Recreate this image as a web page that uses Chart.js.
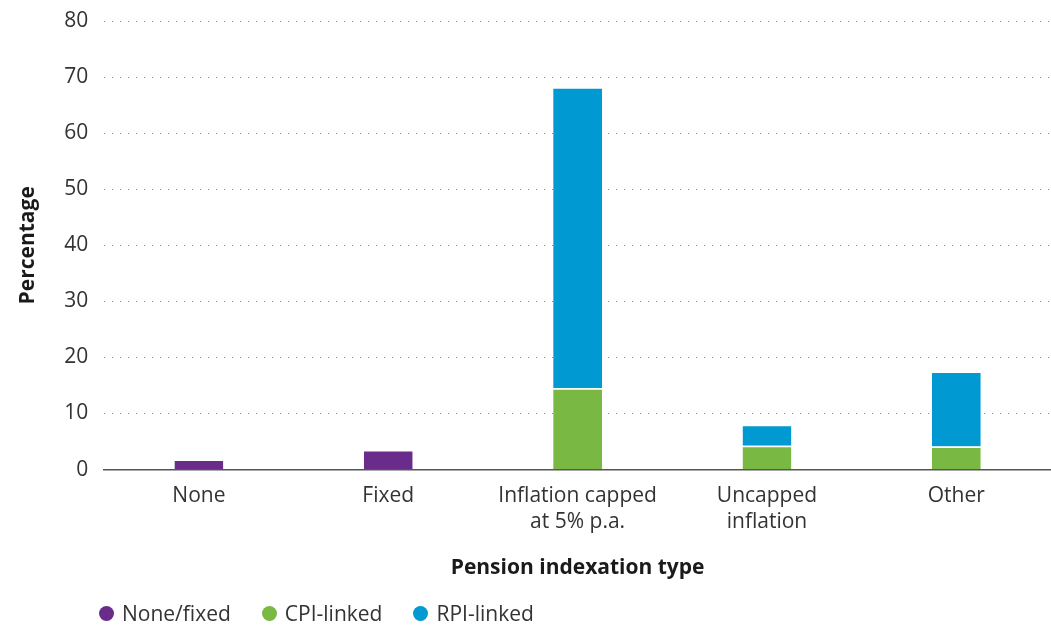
<!DOCTYPE html>
<html>
<head>
<meta charset="utf-8">
<script src="https://cdn.jsdelivr.net/npm/chart.js@4"></script>
<style>
  html, body { margin: 0; padding: 0; background: #fff; }
  #wrap { width: 1051px; height: 629px; position: relative; }
  #legend {
    position: absolute; left: 99px; top: 600px;
    display: flex; align-items: center;
    font-family: 'Open Sans', 'Noto Sans', sans-serif; font-size: 21px; color: #333;
  }
  #legend .item { display: flex; align-items: center; margin-right: 31px; line-height: 26px; }
  #legend .dot { width: 15px; height: 15px; border-radius: 50%; margin-right: 8px; }
</style>
</head>
<body>
<div id="wrap">
  <canvas id="c" width="1051" height="629"></canvas>
  <div id="legend"></div>
</div>
<script>
// Pension indexation type categories (multi-line labels)
const categories = [
  ["None"],
  ["Fixed"],
  ["Inflation capped", "at 5% p.a."],
  ["Uncapped", "inflation"],
  ["Other"]
];

// Percentage of schemes by indexation type
const noneFixed = [1.8, 3.5, null, null, null];
const cpiLinked = [null, null, 14.5, 4.25, 4.1];
const rpiLinked = [null, null, 53.7, 3.75, 13.4];

const yTicks = [0, 10, 20, 30, 40, 50, 60, 70, 80];

const FONT = "'Open Sans', 'Noto Sans', sans-serif";
const TEXT = '#333333';

const ds = (label, data, color) => ({
  label, data,
  backgroundColor: color,
  borderColor: '#ffffff',
  borderWidth: { top: 1.5, bottom: 0, left: 0, right: 0 },
  borderSkipped: false,
  barPercentage: 0.258,
  categoryPercentage: 1.0
});

const chart = new Chart(document.getElementById('c'), {
  type: 'bar',
  data: {
    labels: categories,
    datasets: [
      ds('None/fixed', noneFixed, '#6a2c8a'),
      ds('CPI-linked', cpiLinked, '#7ab844'),
      ds('RPI-linked', rpiLinked, '#0099d1')
    ]
  },
  options: {
    responsive: false,
    animation: false,
    devicePixelRatio: 1,
    layout: { padding: { left: 15, right: 0, top: 3, bottom: 48 } },
    plugins: {
      legend: { display: false },
      tooltip: { enabled: false }
    },
    scales: {
      x: {
        stacked: true,
        grid: { display: false, drawTicks: false },
        border: { display: true, color: '#555555', width: 1.5 },
        ticks: {
          color: TEXT,
          padding: 14,
          font: { family: FONT, size: 21, lineHeight: 1.22 },
          maxRotation: 0
        },
        title: {
          display: true,
          text: 'Pension indexation type',
          color: '#1a1a1a',
          font: { family: FONT, size: 21, weight: 'bold', lineHeight: 1.2 },
          padding: { top: 7, bottom: 0 }
        }
      },
      y: {
        stacked: true,
        min: 0,
        max: 80,
        afterBuildTicks: (axis) => { axis.ticks = yTicks.map(v => ({ value: v })); },
        // keep only room for half of the top label above the plot area
        afterFit: (axis) => { axis.paddingTop = 21; },
        grid: {
          color: '#888888',
          lineWidth: 1,
          drawTicks: false
        },
        border: { display: false, dash: [1, 7] },
        ticks: {
          color: TEXT,
          padding: 16,
          font: { family: FONT, size: 21 }
        },
        title: {
          display: true,
          text: 'Percentage',
          color: '#1a1a1a',
          font: { family: FONT, size: 21, weight: 'bold', lineHeight: 1.2 },
          padding: { top: 0, bottom: 8 }
        }
      }
    }
  }
});

// Legend built from the chart's datasets
const legend = document.getElementById('legend');
chart.data.datasets.forEach(d => {
  const item = document.createElement('div');
  item.className = 'item';
  const dot = document.createElement('span');
  dot.className = 'dot';
  dot.style.background = d.backgroundColor;
  const txt = document.createElement('span');
  txt.textContent = d.label;
  item.appendChild(dot);
  item.appendChild(txt);
  legend.appendChild(item);
});
</script>
</body>
</html>
